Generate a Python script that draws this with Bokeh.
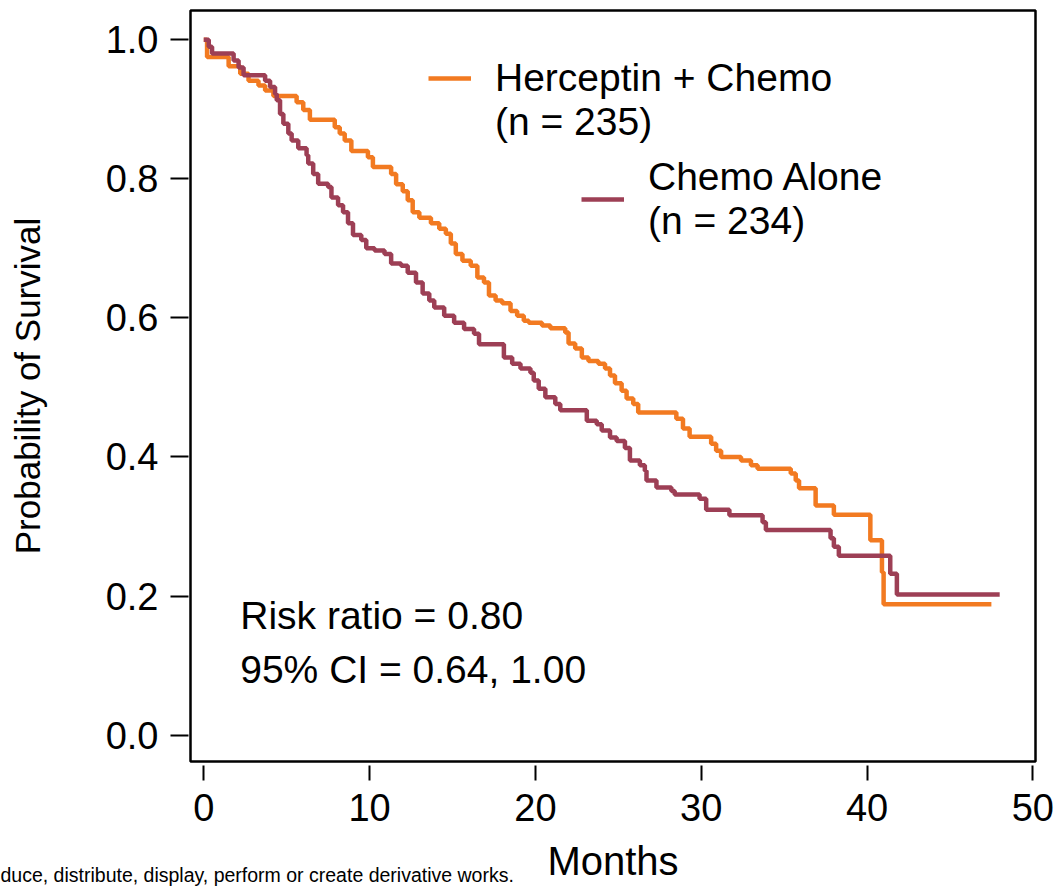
from bokeh.plotting import figure
from bokeh.models import Range1d, Legend, LegendItem, Label, FixedTicker, Title
from bokeh.embed import file_html
from bokeh.resources import INLINE

# ---------------- data ----------------
herceptin_months = [0.0, 0.2, 1.5, 2.2, 2.7, 3.3, 3.7, 4.2, 5.6, 6.0, 6.4, 7.9, 8.2, 8.5, 8.9,
                    9.9, 10.2, 11.3, 11.6, 12.0, 12.3, 12.6, 13.0, 13.7, 14.2, 14.6, 14.9, 15.2,
                    15.6, 16.1, 16.5, 16.9, 17.2, 17.6, 18.0, 18.5, 18.9, 19.3, 19.6, 20.4, 20.9,
                    21.8, 22.0, 22.4, 22.8, 23.2, 23.8, 24.2, 24.5, 24.8, 25.2, 25.5, 25.9, 26.2,
                    28.5, 28.9, 29.3, 30.6, 30.9, 31.2, 32.4, 33.0, 33.4, 35.4, 35.7, 35.9, 36.9,
                    38.0, 40.2, 40.9, 41.0, 47.5]
herceptin_surv = [1.0, 0.975, 0.962, 0.951, 0.941, 0.934, 0.927, 0.919, 0.910, 0.899, 0.885,
                  0.874, 0.865, 0.855, 0.840, 0.831, 0.817, 0.807, 0.792, 0.782, 0.769, 0.752,
                  0.744, 0.736, 0.728, 0.721, 0.707, 0.692, 0.682, 0.675, 0.658, 0.651, 0.632,
                  0.625, 0.621, 0.610, 0.603, 0.596, 0.593, 0.589, 0.585, 0.579, 0.563, 0.556,
                  0.543, 0.538, 0.534, 0.527, 0.517, 0.506, 0.495, 0.484, 0.476, 0.464, 0.455,
                  0.441, 0.429, 0.419, 0.409, 0.400, 0.395, 0.388, 0.383, 0.376, 0.366, 0.355,
                  0.330, 0.317, 0.280, 0.234, 0.188, 0.188]

chemo_months = [0.0, 0.3, 0.5, 1.8, 2.1, 2.4, 3.7, 4.0, 4.3, 4.4, 4.6, 4.8, 5.1, 5.3, 5.7, 6.2,
                6.3, 6.6, 6.9, 7.5, 7.7, 8.1, 8.4, 8.7, 9.0, 9.5, 9.8, 10.3, 10.9, 11.3, 11.9,
                12.3, 12.8, 13.2, 13.6, 13.9, 14.5, 15.1, 15.7, 16.3, 16.6, 18.1, 18.6, 19.1,
                19.7, 19.9, 20.2, 20.6, 21.2, 21.5, 23.1, 23.7, 24.0, 24.5, 24.9, 25.4, 25.7,
                26.3, 26.6, 26.7, 27.3, 28.2, 28.4, 29.9, 30.3, 31.7, 33.7, 33.9, 37.8, 38.0,
                38.3, 41.4, 41.8, 48.0]
chemo_surv = [1.0, 0.990, 0.980, 0.970, 0.960, 0.949, 0.941, 0.932, 0.922, 0.913, 0.893, 0.879,
              0.865, 0.855, 0.844, 0.834, 0.822, 0.807, 0.793, 0.788, 0.773, 0.762, 0.752, 0.736,
              0.719, 0.712, 0.700, 0.697, 0.692, 0.678, 0.675, 0.665, 0.651, 0.635, 0.625, 0.615,
              0.603, 0.593, 0.584, 0.577, 0.562, 0.543, 0.534, 0.527, 0.521, 0.510, 0.498, 0.486,
              0.476, 0.467, 0.452, 0.447, 0.438, 0.428, 0.423, 0.413, 0.395, 0.388, 0.380, 0.366,
              0.356, 0.351, 0.346, 0.340, 0.324, 0.316, 0.306, 0.295, 0.283, 0.271, 0.258, 0.232,
              0.202, 0.202]

x_ticks = [0, 10, 20, 30, 40, 50]
y_ticks = [0.0, 0.2, 0.4, 0.6, 0.8, 1.0]
y_tick_labels = ["0.0", "0.2", "0.4", "0.6", "0.8", "1.0"]

herceptin_name = "Herceptin + Chemo"
herceptin_n = "(n = 235)"
chemo_label = "Chemo Alone\n(n = 234)"
risk_text = "Risk ratio = 0.80"
ci_text = "95% CI = 0.64, 1.00"
notice_text = "duce, distribute, display, perform or create derivative works."

ORANGE = "#F27A21"
MAROON = "#9D3F55"
FONT = "Liberation Sans"

# ---------------- figure ----------------
p = figure(width=1055, height=888, output_backend="svg", toolbar_location=None,
           x_range=Range1d(-0.80, 50.16), y_range=Range1d(-0.038, 1.042),
           min_border_left=190, min_border_right=20, min_border_top=10, min_border_bottom=127)
p.background_fill_color = "white"
p.border_fill_color = "white"
p.grid.visible = False
p.outline_line_color = "black"
p.outline_line_width = 2.5

r_h = p.step(herceptin_months, herceptin_surv, mode="after", line_color=ORANGE, line_width=4.5)
r_c = p.step(chemo_months, chemo_surv, mode="after", line_color=MAROON, line_width=4.5)

for ax in (p.xaxis[0], p.yaxis[0]):
    ax.axis_line_color = None
    ax.major_tick_line_color = "black"
    ax.major_tick_line_width = 2
    ax.minor_tick_line_color = None
    ax.major_label_text_font = FONT
    ax.major_label_text_font_size = "38px"
    ax.major_label_text_color = "black"
    ax.axis_label_text_font = FONT
    ax.axis_label_text_font_style = "normal"
    ax.axis_label_text_color = "black"

p.xaxis.ticker = FixedTicker(ticks=x_ticks)
p.xaxis.major_tick_in = -4
p.xaxis.major_tick_out = 19
p.xaxis.major_label_standoff = 13
p.xaxis.axis_label = "Months"
p.xaxis.axis_label_text_font_size = "40px"
p.xaxis.axis_label_standoff = 15

p.yaxis.ticker = FixedTicker(ticks=y_ticks)
p.yaxis.major_label_overrides = {t: s for t, s in zip(y_ticks, y_tick_labels)}
p.yaxis.major_tick_in = -2
p.yaxis.major_tick_out = 20
p.yaxis.major_label_standoff = 12
p.yaxis.axis_label = "Probability of Survival"
p.yaxis.axis_label_text_font_size = "35px"
p.yaxis.axis_label_standoff = 56

# small notice at the bottom-left (side-panel title; a blank second line lets it sit
# beside the axis label instead of below it)
notice = Title(text=notice_text + "\n ", align="left", vertical_align="top", offset=-190,
               standoff=-43, text_font=FONT, text_font_size="19.5px",
               text_font_style="normal", text_color="black")
p.add_layout(notice, "below")

# legends (two separate, staggered)
leg_common = dict(border_line_color=None, background_fill_alpha=0, padding=0, margin=0,
                  glyph_width=43, glyph_height=20, label_standoff=24,
                  label_text_font=FONT, label_text_font_size="39px", label_text_color="black")
leg1 = Legend(items=[LegendItem(label=herceptin_name, renderers=[r_h]),
                     LegendItem(label=herceptin_n, renderers=[])],
              location=(238, 617), spacing=0, **leg_common)
leg2 = Legend(items=[LegendItem(label=chemo_label, renderers=[r_c])],
              location=(391, 518), spacing=0, label_text_line_height=1.13, **leg_common)
p.add_layout(leg1)
p.add_layout(leg2)

# annotations
p.add_layout(Label(x=2.2, y=0.172, text=risk_text, text_baseline="middle",
                   text_font=FONT, text_font_size="39px", text_color="black"))
p.add_layout(Label(x=2.2, y=0.095, text=ci_text, text_baseline="middle",
                   text_font=FONT, text_font_size="39px", text_color="black"))

open("out.html", "w").write(file_html(p, INLINE))
